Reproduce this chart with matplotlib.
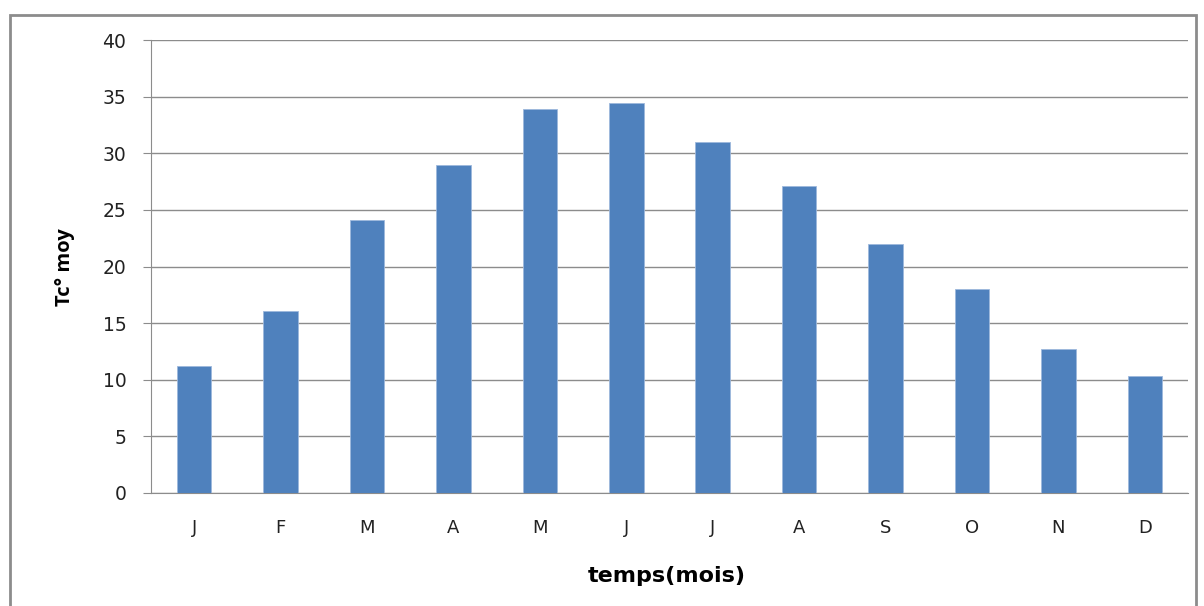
import matplotlib
matplotlib.use("Agg")
import matplotlib.pyplot as plt
from matplotlib.patches import Rectangle

months = ["J", "F", "M", "A", "M", "J", "J", "A", "S", "O", "N", "D"]
temps = [11.2, 16.1, 24.1, 29.0, 33.9, 34.4, 31.0, 27.1, 22.0, 18.0, 12.7, 10.3]
yticks = [0, 5, 10, 15, 20, 25, 30, 35, 40]

fig = plt.figure(figsize=(12.04, 6.06), dpi=100)
ax = fig.add_axes([151/1204, 1-493/606, (1188-151)/1204, (493-40)/606])

x = list(range(len(months)))
ax.bar(x, temps, width=0.4, color="#4F81BD", edgecolor="#9DB8DC", linewidth=0.6, zorder=3)
ax.set_xlim(-0.5, len(months)-0.5)
ax.set_ylim(0, 40)
ax.set_yticks(yticks)
ax.set_xticks(x)
ax.set_xticklabels(months)
ax.yaxis.grid(True, color="#8C8C8C", linewidth=1.0, zorder=0)
for s in ["top", "right"]:
    ax.spines[s].set_visible(False)
ax.spines["left"].set_color("#8C8C8C")
ax.spines["bottom"].set_color("#8C8C8C")
ax.tick_params(axis="y", length=5.8, color="#8C8C8C", labelsize=13.5, pad=12, labelcolor="#222222")
ax.tick_params(axis="x", length=0, labelsize=13, pad=19, labelcolor="#222222")
ax.set_xlabel("temps(mois)", fontsize=16, fontweight="bold", family="DejaVu Sans", va="center")
ax.xaxis.set_label_coords(0.5 + (667 - 669.5) / 1037, (493 - 576) / 453)
ax.set_ylabel("Tc° moy", fontsize=14.5, fontweight="bold", family="Open Sans", va="center")
ax.yaxis.set_label_coords((65 - 151) / 1037, (493 - 267) / 453)

fig.patches.append(Rectangle((10/1204, -0.05), (1196-10)/1204, 1.05-15/606,
                             transform=fig.transFigure, fill=False,
                             edgecolor="#8C8C8C", linewidth=2))

fig.savefig("out.png", dpi=100)
